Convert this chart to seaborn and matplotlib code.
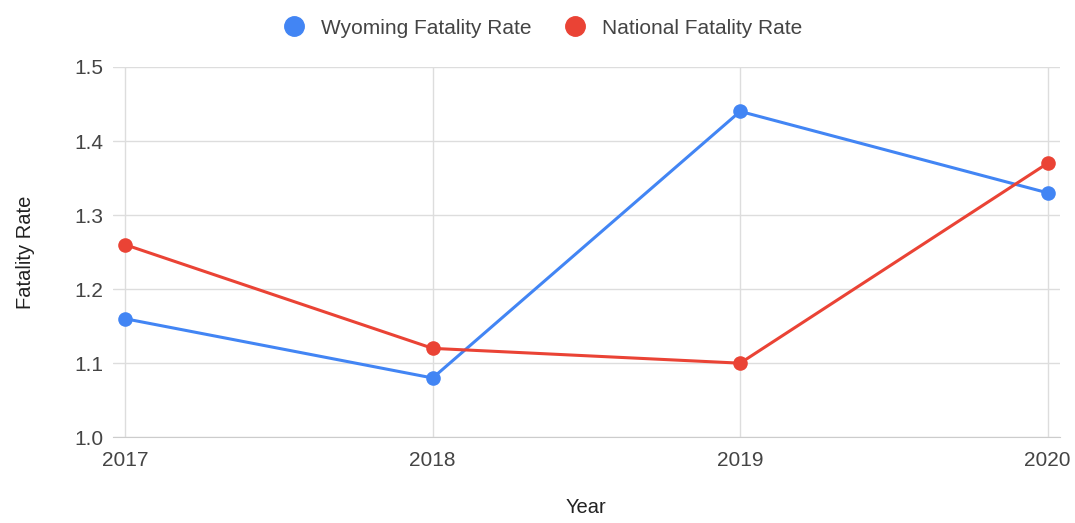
import numpy as np
import pandas as pd
import seaborn as sns
import matplotlib.pyplot as plt

YEARS = [2017, 2018, 2019, 2020]
WYOMING_RATE = [1.16, 1.08, 1.44, 1.33]
NATIONAL_RATE = [1.26, 1.12, 1.10, 1.37]
Y_TICKS = [1.0, 1.1, 1.2, 1.3, 1.4, 1.5]

BLUE = "#4285F4"
RED = "#EA4335"

sns.set_style("white")
plt.rcParams["font.family"] = ["Liberation Sans", "DejaVu Sans"]

df = pd.DataFrame({
    "Year": YEARS * 2,
    "Fatality Rate": WYOMING_RATE + NATIONAL_RATE,
    "series": ["Wyoming Fatality Rate"] * 4 + ["National Fatality Rate"] * 4,
})

fig = plt.figure(figsize=(10.75, 5.23), dpi=100)
ax = fig.add_axes([0.105, 0.164, 0.881, 0.708])

sns.lineplot(
    data=df, x="Year", y="Fatality Rate", hue="series",
    palette=[BLUE, RED], marker="o", markersize=10.5, markeredgewidth=0,
    linewidth=2.2, ax=ax, legend=False,
)

ax.set_xlim(2017 - 0.04, 2020 + 0.04)
ax.set_ylim(1.0, 1.5)
ax.set_xticks(YEARS)
ax.set_yticks(Y_TICKS)
ax.set_yticklabels([f"{v:.1f}" for v in Y_TICKS])
ax.grid(True, color="#dddddd", linewidth=1)
ax.set_axisbelow(True)
for side in ["left", "right", "top"]:
    ax.spines[side].set_visible(False)
ax.spines["bottom"].set_color("#cccccc")
ax.tick_params(axis="both", length=0, labelsize=15, colors="#444444")
ax.tick_params(axis="x", pad=10)
ax.tick_params(axis="y", pad=7)
ax.set_xlabel("Year", fontsize=14.5, color="#222222", labelpad=20)
ax.set_ylabel("Fatality Rate", fontsize=14.5, color="#222222", labelpad=28)

handles = [
    plt.Line2D([], [], marker="o", linestyle="", markersize=14, color=BLUE,
               label="Wyoming Fatality Rate"),
    plt.Line2D([], [], marker="o", linestyle="", markersize=14, color=RED,
               label="National Fatality Rate"),
]
fig.legend(handles=handles, loc="upper center", bbox_to_anchor=(0.5, 1.0),
           ncol=2, frameon=False, fontsize=15, labelcolor="#444444",
           handletextpad=0.3, columnspacing=1.1)

fig.savefig("out.png", dpi=100)
